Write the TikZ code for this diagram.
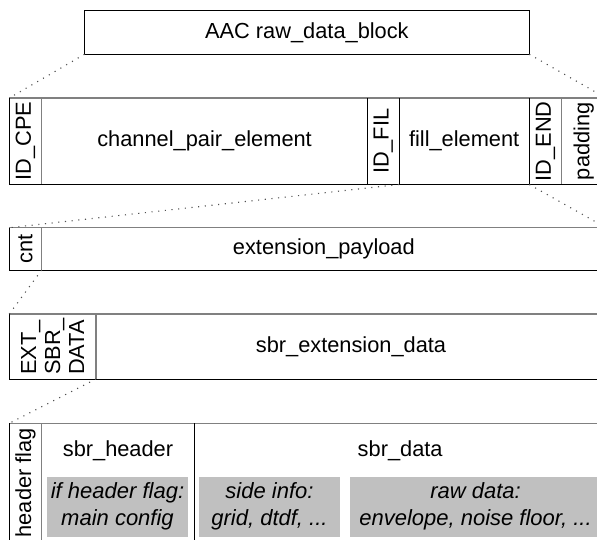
\documentclass[tikz,border=0pt]{standalone}
\usepackage{fontspec}
\setmainfont{Liberation Sans}
\definecolor{boxgray}{HTML}{C0C0C0}
\definecolor{linegray}{HTML}{808080}
\definecolor{dotgray}{HTML}{505050}
\begin{document}
\begin{tikzpicture}[x=1pt,y=-1pt,
  cell/.style={anchor=north west, inner sep=0pt, outer sep=0pt, font=\fontsize{21.8}{25}\selectfont},
  txt/.style={inner sep=0pt, outer sep=0pt, font=\fontsize{21.8}{25}\selectfont},
  vtxt/.style={txt, rotate=90},
  shade/.style={anchor=north west, inner sep=0pt, outer sep=0pt, fill=boxgray, align=center,
    font=\fontsize{22}{27}\selectfont\itshape},
  darkline/.style={draw=black, line width=1pt},
  lightline/.style={draw=linegray, line width=1.3pt},
  dotline/.style={draw=dotgray, line width=1.1pt, dash pattern=on 1.1pt off 5.6pt}]
\useasboundingbox (0,0) rectangle (597,540);
\clip (0,0) rectangle (597,540);

% top box
\node[cell, draw=black, line width=1pt, minimum width=444.8pt, minimum height=43.3pt] (top) at (84.5,11) {AAC raw\_data\_block};

% row 2
\node[cell, minimum width=32.4pt, minimum height=86.5pt] (idcpe) at (9.3,98) {};
\node[cell, minimum width=325.8pt, minimum height=86.5pt] (cpe) at (41.7,98) {channel\_pair\_element};
\node[cell, minimum width=31.5pt, minimum height=86.5pt] (idfil) at (367.5,98) {};
\node[cell, minimum width=130.3pt, minimum height=86.5pt] (fil) at (399,98) {fill\_element};
\node[cell, minimum width=32.4pt, minimum height=86.5pt] (idend) at (529.3,98) {};
\node[cell, minimum width=44.3pt, minimum height=86.5pt] (pad) at (561.7,98) {};
\node[vtxt] (idcpelbl) at (idcpe.center) {ID\_CPE};
\node[vtxt] (idfillbl) at (idfil.center) {ID\_FIL};
\node[vtxt] (idendlbl) at (idend.center) {ID\_END};
\node[vtxt] (padlbl) at (pad.center) {padding};
\draw[lightline] (idcpe.north west) -- (pad.north east);
\draw[darkline] (idcpe.south west) -- (pad.south east);
\draw[darkline] (idcpe.north west) -- (idcpe.south west);
\draw[lightline] (idcpe.north east) -- (idcpe.south east);
\draw[darkline] (cpe.north east) -- (cpe.south east);
\draw[darkline] (idfil.north east) -- (idfil.south east);
\draw[darkline] (fil.north east) -- (fil.south east);
\draw[lightline] (idend.north east) -- (idend.south east);
\draw[darkline] (pad.north east) -- (pad.south east);

% row 3
\node[cell, minimum width=32.4pt, minimum height=42.3pt] (cnt) at (9.3,227.7) {};
\node[cell, minimum width=564.3pt, minimum height=42.3pt] (payload) at (41.7,227.7) {extension\_payload};
\node[vtxt] (cntlbl) at (cnt.center) {cnt};
\draw[lightline] (cnt.north west) -- (payload.north east);
\draw[darkline] (cnt.south west) -- (payload.south east);
\draw[darkline] (cnt.north west) -- (cnt.south west);
\draw[lightline] (cnt.north east) -- (cnt.south east);
\draw[darkline] (payload.north east) -- (payload.south east);

% row 4
\node[cell, minimum width=86.7pt, minimum height=65pt] (ext) at (9.3,314) {};
\node[cell, minimum width=510pt, minimum height=65pt] (sbrext) at (96,314) {sbr\_extension\_data};
\node[vtxt, align=left, font=\fontsize{21.8}{24}\selectfont] (extlbl) at (ext.center) {EXT\_\\SBR\_\\DATA};
\draw[lightline] (ext.north west) -- (sbrext.north east);
\draw[darkline] (ext.south west) -- (sbrext.south east);
\draw[darkline] (ext.north west) -- (ext.south west);
\draw[lightline] (ext.north east) -- (ext.south east);
\draw[darkline] (sbrext.north east) -- (sbrext.south east);

% row 5
\node[cell, minimum width=32.4pt, minimum height=119pt] (hflag) at (9.3,423.3) {};
\node[cell, minimum width=152.6pt, minimum height=119pt] (hdr) at (41.7,423.3) {};
\node[cell, minimum width=411.7pt, minimum height=119pt] (data) at (194.3,423.3) {};
\node[vtxt] (hflaglbl) at (hflag.center) {header flag};
\node[txt] (hdrlbl) at ([yshift=-27pt]hdr.north) {sbr\_header};
\node[txt] (datalbl) at ([yshift=-27pt]data.north) {sbr\_data};
\draw[lightline] (hflag.north west) -- (data.north east);
\draw[darkline] (hflag.south west) -- (data.south east);
\draw[darkline] (hflag.north west) -- (hflag.south west);
\draw[lightline] (hflag.north east) -- (hflag.south east);
\draw[darkline] (hdr.north east) -- (hdr.south east);
\draw[darkline] (data.north east) -- (data.south east);
\node[shade, minimum width=141.6pt, minimum height=60pt] (g1) at (46.7,476.7) {if header flag:\\main config};
\node[shade, minimum width=141pt, minimum height=60pt] (g2) at (199,476.7) {side info:\\grid, dtdf, ...};
\node[shade, minimum width=251pt, minimum height=60pt] (g3) at (350,476.7) {raw data:\\envelope, noise floor, ...};

% dotted connectors
\draw[dotline] (top.south west) -- (idcpe.north west);
\draw[dotline] (top.south east) -- (pad.north east);
\draw[dotline] (idfil.south east) -- (cnt.north west);
\draw[dotline] (idend.south west) -- (payload.north east);
\draw[dotline] (cnt.south east) -- (ext.north west);
\draw[dotline] (ext.south east) -- (hflag.north west);
\end{tikzpicture}
\end{document}
